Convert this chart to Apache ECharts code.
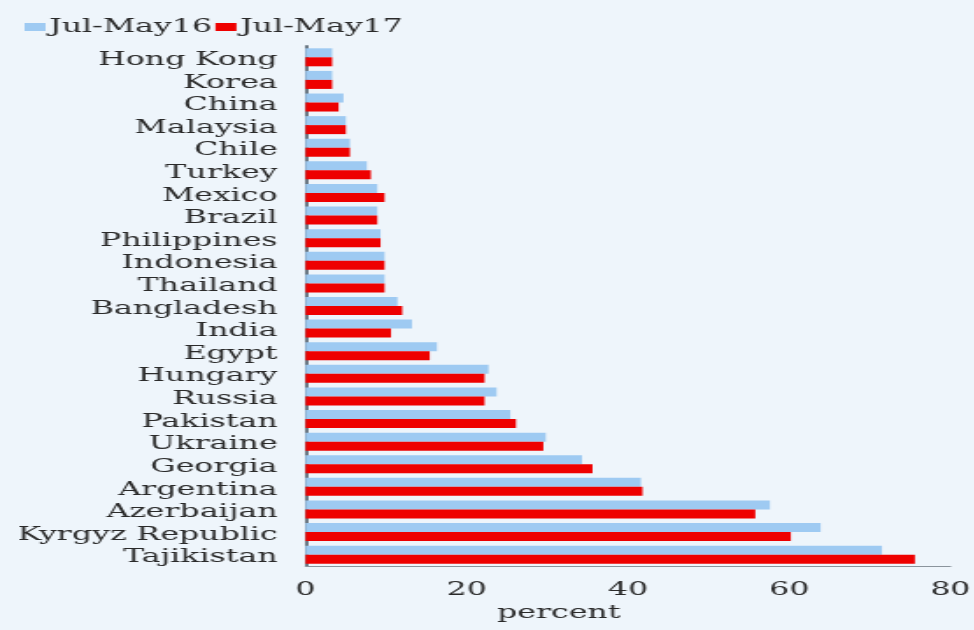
<!DOCTYPE html>
<html>
<head>
<meta charset="utf-8">
<script src="https://cdn.jsdelivr.net/npm/echarts@6/dist/echarts.min.js"></script>
<style>
  html, body { margin: 0; padding: 0; background: #eef5fb; overflow: hidden; }
  #wrap { width: 974px; height: 630px; overflow: hidden; }
  #chart { height: 630px; transform-origin: 0 0; }
</style>
</head>
<body>
<div id="wrap"><div id="chart"></div></div>
<script>
// Countries, top to bottom
const countries = [
  'Hong Kong', 'Korea', 'China', 'Malaysia', 'Chile', 'Turkey', 'Mexico', 'Brazil',
  'Philippines', 'Indonesia', 'Thailand', 'Bangladesh', 'India', 'Egypt', 'Hungary',
  'Russia', 'Pakistan', 'Ukraine', 'Georgia', 'Argentina', 'Azerbaijan',
  'Kyrgyz Republic', 'Tajikistan'
];
const seriesNames = ['Jul-May16', 'Jul-May17'];
// percent
const julMay16 = [3.3, 3.3, 4.7, 5.0, 5.5, 7.6, 8.9, 8.9, 9.3, 9.8, 9.8, 11.4, 13.2, 16.3, 22.7, 23.7, 25.4, 29.8, 34.3, 41.6, 57.6, 63.9, 71.5];
const julMay17 = [3.3, 3.3, 4.1, 5.0, 5.5, 8.1, 9.8, 8.9, 9.3, 9.8, 9.8, 12.0, 10.6, 15.4, 22.2, 22.2, 26.1, 29.5, 35.6, 41.8, 55.8, 60.2, 75.6];
const xTicks = { min: 0, max: 80, interval: 20 };

// The lettering is set wide: draw on a narrower canvas and stretch it horizontally.
const STRETCH = 1.75;
const W = 974 / STRETCH;
const el = document.getElementById('chart');
el.style.width = W + 'px';
el.style.transform = 'scaleX(' + STRETCH + ')';

const font = 'DejaVu Serif';
const textColor = '#2a2a2a';
const chart = echarts.init(el, null, { renderer: 'canvas', width: W, height: 630 });

chart.setOption({
  backgroundColor: '#eef5fb',
  animation: false,
  color: ['#9ecaf2', '#ee0000'],
  legend: {
    data: seriesNames,
    left: 9,
    top: 13,
    itemGap: 2,
    itemWidth: 12,
    itemHeight: 8,
    icon: 'rect',
    textStyle: { fontFamily: font, fontSize: 18, color: textColor, padding: [0, 0, 0, -3] }
  },
  grid: { left: 305 / STRETCH, right: W - 953 / STRETCH, top: 46, bottom: 64 },
  xAxis: {
    type: 'value',
    min: xTicks.min, max: xTicks.max, interval: xTicks.interval,
    name: 'percent',
    nameLocation: 'middle',
    nameGap: 36,
    nameTextStyle: { fontFamily: font, fontSize: 18, color: textColor, padding: [0, 79, 0, 0] },
    axisLine: { show: true, lineStyle: { color: '#8a949c', width: 1 } },
    axisTick: { show: false },
    splitLine: { show: false },
    axisLabel: { fontFamily: font, fontSize: 18, color: textColor, margin: 15 }
  },
  yAxis: {
    type: 'category',
    data: countries,
    inverse: true,
    axisLine: { show: true, lineStyle: { color: '#6b7884', width: 2 } },
    axisTick: { show: false },
    axisLabel: {
      interval: 0, margin: 16,
      formatter: function (v) { return '{c|' + v + '}'; },
      rich: {
        c: { fontFamily: font, fontSize: 18, color: textColor, padding: [6, 0, 0, 0] }
      }
    }
  },
  series: [
    { name: seriesNames[0], type: 'bar', data: julMay16, barWidth: 9, barGap: '0%' },
    { name: seriesNames[1], type: 'bar', data: julMay17, barWidth: 9, barGap: '0%' }
  ]
});
</script>
</body>
</html>
